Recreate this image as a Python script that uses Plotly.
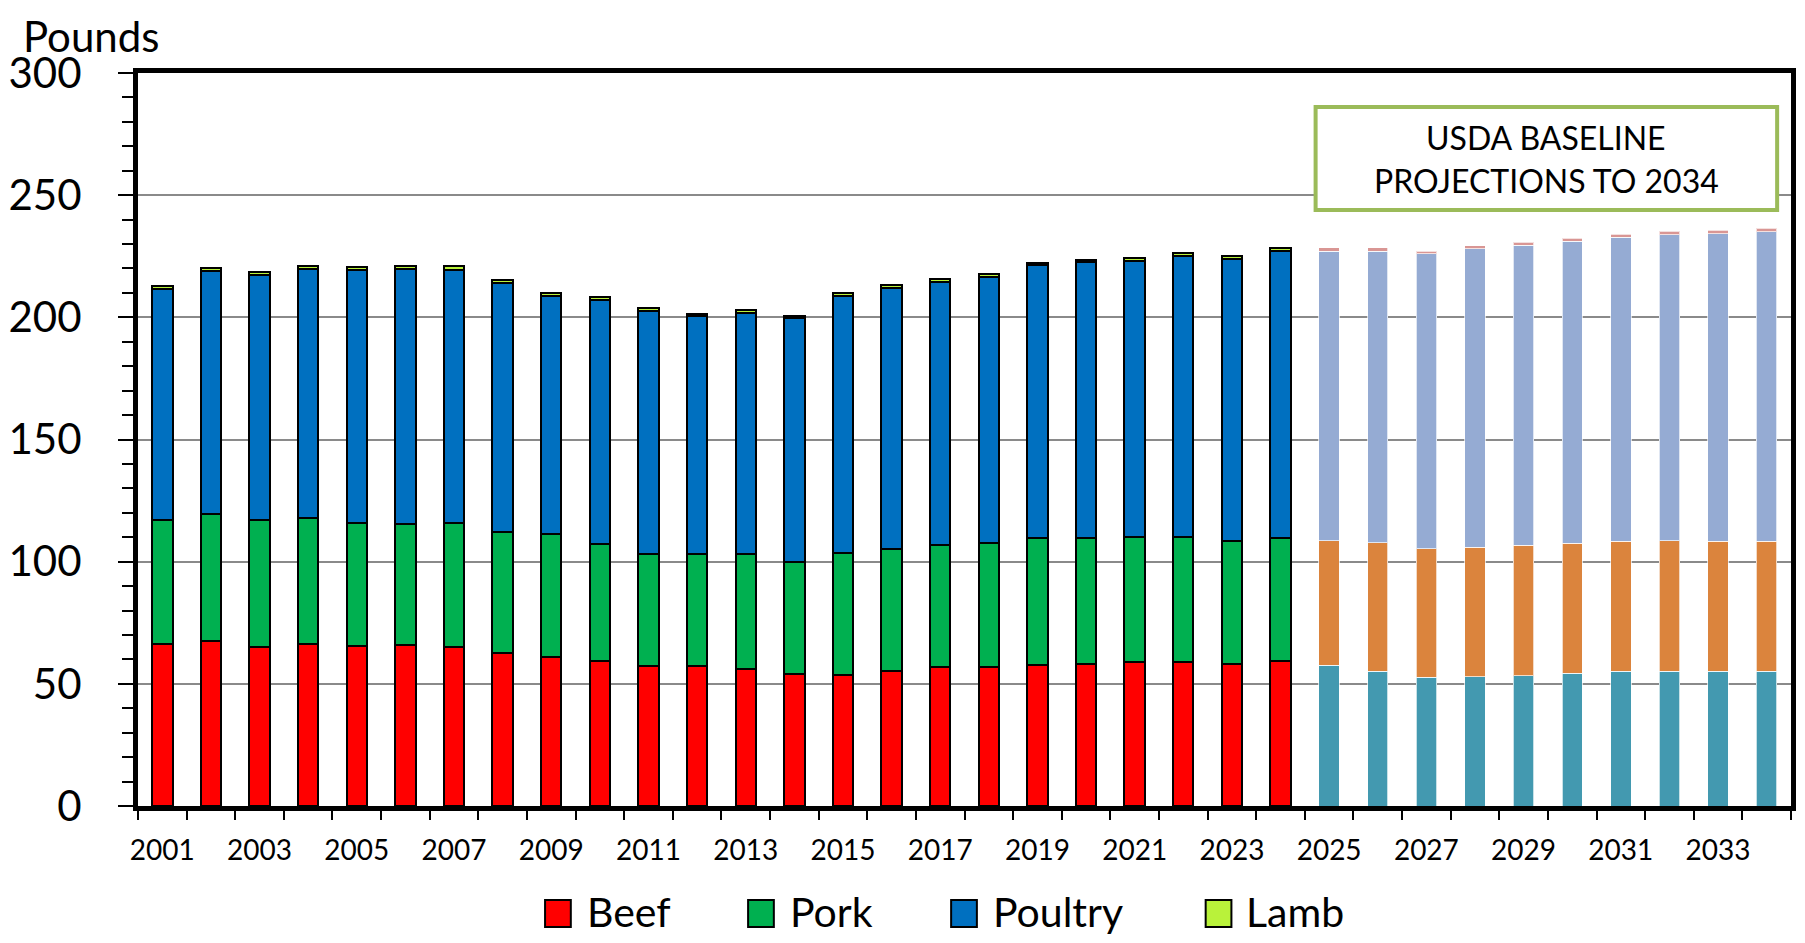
import plotly.graph_objects as go

# ---------------- data ----------------
years_hist = list(range(2001, 2025))
beef_hist = [66.3, 67.6, 65.0, 66.2, 65.5, 65.7, 65.2, 62.5, 61.0, 59.5, 57.2, 57.2,
             56.1, 54.0, 53.8, 55.2, 56.7, 56.7, 57.6, 58.2, 59.0, 59.0, 58.0, 59.4]
pork_hist = [50.7, 51.9, 52.0, 51.8, 50.5, 49.8, 50.8, 49.5, 50.5, 47.7, 45.8, 45.9,
             46.9, 45.7, 49.6, 49.8, 50.0, 50.9, 52.1, 51.5, 50.9, 51.2, 50.3, 50.3]
poultry_hist = [94.7, 99.4, 100.2, 101.8, 103.2, 104.3, 103.5, 102.2, 97.4, 100.0, 99.7, 97.3,
                98.8, 99.9, 105.3, 107.0, 107.6, 109.0, 111.6, 112.8, 113.1, 114.7, 115.4, 117.3]
lamb_hist = [1.3, 1.2, 1.3, 1.3, 1.3, 1.3, 1.4, 1.2, 1.2, 1.1, 1.1, 1.0,
             1.0, 1.0, 1.1, 1.2, 1.2, 1.2, 1.1, 1.1, 1.3, 1.3, 1.2, 1.2]

years_proj = list(range(2025, 2035))
beef_proj = [57.6, 55.2, 52.7, 53.0, 53.3, 54.4, 55.2, 55.2, 55.2, 55.2]
pork_proj = [51.0, 52.6, 52.6, 52.9, 53.4, 53.1, 53.1, 53.4, 53.1, 53.1]
poultry_proj = [118.5, 119.3, 120.7, 122.1, 122.8, 123.6, 124.4, 125.2, 125.9, 126.7]
lamb_proj = [1.3, 1.3, 1.1, 1.4, 1.2, 1.3, 1.3, 1.4, 1.4, 1.4]

series_names = ["Beef", "Pork", "Poultry", "Lamb"]
hist_colors = ["#ff0000", "#00b050", "#0070c0", "#b9f23a"]
proj_colors = ["#4399b0", "#db843d", "#95abd3", "#d99694"]

x_tick_years = list(range(2001, 2034, 2))
x_tick_labels = [str(y) for y in x_tick_years]

FONT = "Lato"

# ---------------- layout geometry ----------------
# The page body has an 8px margin; the figure is sized so the page fits the window.
OFF = 8
FW, FH = 1805 - 2 * OFF, 943 - 2 * OFF
# desired plot area in page pixels
PX0, PX1, PY0, PY1 = 127, 1796, 73, 806
L = PX0 - OFF
T = PY0 - OFF
R = FW - (PX1 - OFF)
B = FH - (PY1 - OFF)
PW, PH = PX1 - PX0, PY1 - PY0


def px_x(px):
    return (px - PX0) / PW


def px_y(py):
    return (PY1 - py) / PH


fig = go.Figure()

hist_vals = [beef_hist, pork_hist, poultry_hist, lamb_hist]
proj_vals = [beef_proj, pork_proj, poultry_proj, lamb_proj]

for name, vals, col in zip(series_names, hist_vals, hist_colors):
    fig.add_trace(go.Bar(
        x=years_hist, y=vals, name=name, width=0.42,
        marker=dict(color=col, line=dict(color="black", width=2)),
        showlegend=False,
    ))

for name, vals, col in zip(series_names, proj_vals, proj_colors):
    fig.add_trace(go.Bar(
        x=years_proj, y=vals, name=name + " (projection)", width=0.42,
        marker=dict(color=col, line=dict(color="rgba(255,255,255,0.7)", width=1)),
        showlegend=False,
    ))

shapes = []
annotations = []

# custom legend (page pixel positions)
legend_items = [
    ("Beef", hist_colors[0], 538, 578),
    ("Pork", hist_colors[1], 743, 783),
    ("Poultry", hist_colors[2], 948, 988),
    ("Lamb", hist_colors[3], 1205, 1244),
]
for label, col, sq_x, tx_x in legend_items:
    shapes.append(dict(type="rect", xref="paper", yref="paper",
                       x0=px_x(sq_x), x1=px_x(sq_x + 26), y0=px_y(927), y1=px_y(900),
                       fillcolor=col, line=dict(color="black", width=2)))
    annotations.append(dict(xref="paper", yref="paper", x=px_x(tx_x), y=px_y(911),
                            xanchor="left", yanchor="middle", showarrow=False,
                            text=label, font=dict(family=FONT, size=41, color="black")))

# projection text box
shapes.append(dict(type="rect", xref="paper", yref="paper",
                   x0=px_x(1316), x1=px_x(1782), y0=px_y(210), y1=px_y(107),
                   fillcolor="white", line=dict(color="#9bbb59", width=4), layer="above"))
for line_text, cy in (("USDA BASELINE", 137), ("PROJECTIONS TO 2034", 181)):
    annotations.append(dict(xref="paper", yref="paper", x=px_x(1549), y=px_y(cy),
                            xanchor="center", yanchor="middle", showarrow=False,
                            text=line_text, font=dict(family=FONT, size=32, color="black")))

# y-axis title
annotations.append(dict(xref="paper", yref="paper", x=px_x(9), y=px_y(36),
                        xanchor="left", yanchor="middle", showarrow=False,
                        text="Pounds", font=dict(family=FONT, size=42, color="black")))

fig.update_layout(
    width=FW, height=FH,
    margin=dict(l=L, r=R, t=T, b=B, pad=0),
    barmode="stack",
    plot_bgcolor="white", paper_bgcolor="white",
    font=dict(family=FONT, color="black"),
    shapes=shapes, annotations=annotations,
    showlegend=False,
)

fig.update_xaxes(
    range=[2000.5, 2034.5], tickmode="array", tickvals=x_tick_years, ticktext=x_tick_labels,
    ticks="", showgrid=False, zeroline=False,
    showline=True, linecolor="black", linewidth=5, mirror=True,
    tickfont=dict(family=FONT, size=28, color="black"),
    ticklabelstandoff=15,
    minor=dict(ticks="outside", tick0=0.5, dtick=1, ticklen=9, tickwidth=2,
               tickcolor="black", showgrid=False),
)

fig.update_yaxes(
    range=[0, 300], tickmode="linear", tick0=0, dtick=50,
    ticks="outside", ticklen=15, tickwidth=2, tickcolor="black",
    showgrid=True, gridcolor="#8a8a8a", gridwidth=1.5, zeroline=False,
    showline=True, linecolor="black", linewidth=5, mirror=True,
    tickfont=dict(family=FONT, size=42, color="black"),
    ticklabelstandoff=28,
    minor=dict(ticks="outside", dtick=10, ticklen=11, tickwidth=2,
               tickcolor="black", showgrid=False),
)

fig.write_html("out.html")
